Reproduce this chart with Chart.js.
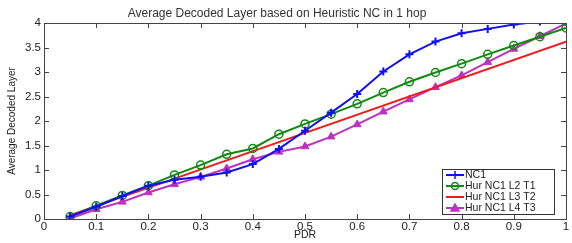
<!DOCTYPE html>
<html><head><meta charset="utf-8">
<script src="https://cdn.jsdelivr.net/npm/chart.js@4/dist/chart.umd.min.js"></script>
<style>html,body{margin:0;padding:0;background:#fff;}#wrap{width:572px;height:243px;}</style>
</head><body><div id="wrap"><canvas id="c" width="572" height="243"></canvas></div>
<script>
const pdr = [0.05,0.1,0.15,0.2,0.25,0.3,0.35,0.4,0.45,0.5,0.55,0.6,0.65,0.7,0.75,0.8,0.85,0.9,0.95,1.0];
const nc1 = [0.05,0.25,0.47,0.68,0.80,0.86,0.95,1.12,1.43,1.80,2.17,2.55,3.01,3.36,3.62,3.79,3.88,3.97,4.03,4.08];
const hurL2T1 = [0.05,0.27,0.48,0.68,0.90,1.10,1.32,1.44,1.73,1.94,2.14,2.35,2.58,2.80,2.99,3.17,3.36,3.54,3.72,3.90];
const hurL3T2X = [0.05,1.0];
const hurL3T2 = [0.08,3.62];
const hurL4T3 = [0.01,0.20,0.35,0.54,0.71,0.86,1.03,1.22,1.37,1.48,1.68,1.93,2.19,2.44,2.69,2.93,3.20,3.47,3.73,3.99];
const xTicks = [0,0.1,0.2,0.3,0.4,0.5,0.6,0.7,0.8,0.9,1];
const yTicks = [0,0.5,1,1.5,2,2.5,3,3.5,4];
const seriesNames = ['NC1','Hur NC1 L2 T1','Hur NC1 L3 T2','Hur NC1 L4 T3'];
const titleText = 'Average Decoded Layer based on Heuristic NC in 1 hop';
const FONT = 'Liberation Sans, Arial, sans-serif';

const pts = (xs, ys) => xs.map((x,i)=>({x:x,y:ys[i]}));

const framePlugin = {
  id:'frame',
  afterDraw(chart){
    const ctx = chart.ctx, a = chart.chartArea;
    const xs = chart.scales.x, ys = chart.scales.y;
    ctx.save();
    ctx.strokeStyle = '#444'; ctx.lineWidth = 1;
    ctx.strokeRect(a.left+0.5, a.top+0.5, a.right-a.left, a.bottom-a.top);
    ctx.beginPath();
    xTicks.forEach(v=>{const p=Math.round(xs.getPixelForValue(v))+0.5;
      ctx.moveTo(p,a.bottom); ctx.lineTo(p,a.bottom-5);
      ctx.moveTo(p,a.top); ctx.lineTo(p,a.top+5);});
    yTicks.forEach(v=>{const p=Math.round(ys.getPixelForValue(v))+0.5;
      ctx.moveTo(a.left,p); ctx.lineTo(a.left+5,p);
      ctx.moveTo(a.right,p); ctx.lineTo(a.right-5,p);});
    ctx.stroke();
    // title
    ctx.fillStyle = '#333'; ctx.font = '12px '+FONT; ctx.textAlign='center'; ctx.textBaseline='middle';
    ctx.fillText(titleText, 277, 14);
    // legend
    const lx = 442, ly = 169, lw = 112, lh = 45;
    ctx.fillStyle='#fff'; ctx.fillRect(lx,ly,lw,lh);
    ctx.lineWidth=1; ctx.strokeStyle='#333'; ctx.strokeRect(lx+0.5,ly+0.5,lw,lh);
    chart.data.datasets.forEach((ds,i)=>{
      const y = ly + 6 + i*11;
      ctx.strokeStyle = ds.borderColor; ctx.lineWidth = 2;
      ctx.beginPath(); ctx.moveTo(lx+4,y); ctx.lineTo(lx+22,y); ctx.stroke();
      if (ds.pointRadius>0) {
        ctx.lineWidth=1.5; ctx.strokeStyle=ds.borderColor; ctx.fillStyle=ds.pointBackgroundColor;
        ctx.beginPath();
        if (ds.pointStyle==='circle'){ctx.arc(lx+13,y,3.5,0,Math.PI*2); ctx.stroke();}
        else if (ds.pointStyle==='triangle'){ctx.moveTo(lx+13,y-4);ctx.lineTo(lx+17,y+3);ctx.lineTo(lx+9,y+3);ctx.closePath();ctx.fill();ctx.stroke();}
        else if (ds.pointStyle==='cross'){ctx.moveTo(lx+13,y-4);ctx.lineTo(lx+13,y+4);ctx.moveTo(lx+9,y);ctx.lineTo(lx+17,y);ctx.stroke();}
      }
      ctx.fillStyle='#222'; ctx.font='10.5px '+FONT; ctx.textAlign='left'; ctx.textBaseline='middle';
      ctx.fillText(ds.label, lx+23, y+0.5);
    });
    ctx.restore();
  }
};

new Chart(document.getElementById('c'), {
  type:'line',
  data:{datasets:[
    {label:seriesNames[0], data:pts(pdr,nc1), borderColor:'#1010f0', backgroundColor:'#1010f0', pointStyle:'cross', pointRadius:4, pointBorderWidth:2, pointBackgroundColor:'#1010f0', borderWidth:2, tension:0},
    {label:seriesNames[1], data:pts(pdr,hurL2T1), borderColor:'#108a10', backgroundColor:'#108a10', pointStyle:'circle', pointRadius:4, pointBorderWidth:1.5, pointBackgroundColor:'rgba(0,0,0,0)', borderWidth:2, tension:0},
    {label:seriesNames[2], data:pts(hurL3T2X,hurL3T2), borderColor:'#ee1c1c', backgroundColor:'#ee1c1c', pointStyle:false, pointRadius:0, borderWidth:2, tension:0},
    {label:seriesNames[3], data:pts(pdr,hurL4T3), borderColor:'#c030c0', backgroundColor:'#c030c0', pointStyle:'triangle', pointRadius:4.5, pointBorderWidth:1, pointBackgroundColor:'#c030c0', borderWidth:2, tension:0}
  ]},
  options:{
    responsive:false, animation:false,
    layout:{padding:{top:23,right:6,left:0,bottom:0}},
    plugins:{legend:{display:false}, title:{display:false}, tooltip:{enabled:false}},
    scales:{
      x:{type:'linear', min:0, max:1,
        afterFit(s){s.height=24;},
        afterBuildTicks(s){s.ticks=xTicks.map(v=>({value:v}));},
        grid:{display:false, drawTicks:false, tickLength:0}, border:{display:false},
        ticks:{padding:1, color:'#222', font:{family:FONT,size:11.5}, callback:v=>String(v)},
        title:{display:true, text:'PDR', color:'#222', font:{family:FONT,size:10.5}, padding:{top:0,bottom:2}}},
      y:{min:0, max:4,
        afterFit(s){s.width=44;},
        afterBuildTicks(s){s.ticks=yTicks.map(v=>({value:v}));},
        grid:{display:false, drawTicks:false, tickLength:0}, border:{display:false},
        ticks:{padding:3, color:'#222', font:{family:FONT,size:11.5}, callback:v=>String(v)},
        title:{display:true, text:'Average Decoded Layer', color:'#222', font:{family:FONT,size:10}, padding:{top:6,bottom:0}}}
    }
  },
  plugins:[framePlugin]
});
</script></body></html>
